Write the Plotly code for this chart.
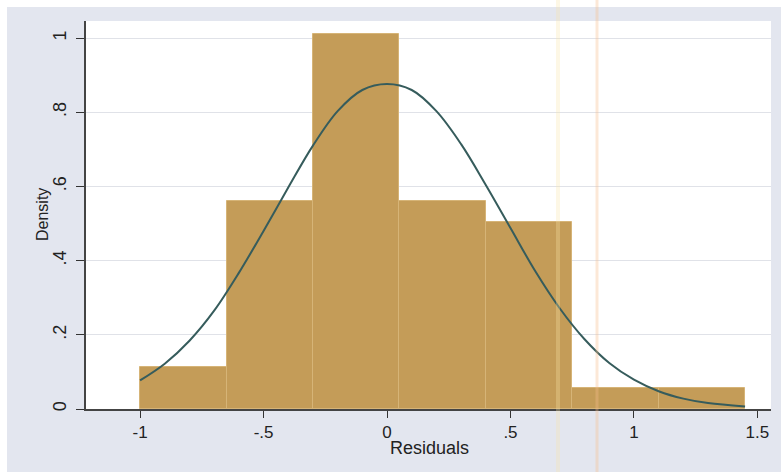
import plotly.graph_objects as go

# Histogram of residuals (density scale)
bin_edges = [-1.0, -0.65, -0.30, 0.05, 0.40, 0.75, 1.10, 1.45]
densities = [0.112, 0.560, 1.010, 0.560, 0.504, 0.056, 0.056]

# Normal density overlay
curve_x = [-1.0, -0.9, -0.8, -0.7, -0.6, -0.5, -0.4, -0.3, -0.2, -0.1, 0.0,
           0.1, 0.2, 0.3, 0.4, 0.5, 0.6, 0.7, 0.8, 0.9, 1.0, 1.1, 1.2, 1.3, 1.45]
curve_y = [0.077, 0.122, 0.184, 0.265, 0.367, 0.480, 0.597, 0.710, 0.803, 0.860, 0.876,
           0.860, 0.803, 0.714, 0.604, 0.488, 0.372, 0.271, 0.188, 0.124, 0.079, 0.048,
           0.028, 0.016, 0.007]

x_ticks = [-1, -0.5, 0, 0.5, 1, 1.5]
x_tick_labels = ["-1", "-.5", "0", ".5", "1", "1.5"]
y_ticks = [0, 0.2, 0.4, 0.6, 0.8, 1.0]
y_tick_labels = ["0", ".2", ".4", ".6", ".8", "1"]

centers = [(a + b) / 2 for a, b in zip(bin_edges[:-1], bin_edges[1:])]
widths = [b - a for a, b in zip(bin_edges[:-1], bin_edges[1:])]

FONT = "Liberation Sans, Arial, sans-serif"
BG = "#e3e6ef"

fig = go.Figure()
fig.add_trace(go.Bar(
    x=centers, y=densities, width=widths,
    marker=dict(color="#c49c58", line=dict(color="#d6b477", width=1)),
    showlegend=False, hoverinfo="skip",
))
fig.add_trace(go.Scatter(
    x=curve_x, y=curve_y, mode="lines",
    line=dict(color="#365c5c", width=2, shape="spline", smoothing=1.0),
    showlegend=False, hoverinfo="skip",
))

W, H = 781, 472
L, R, T, B = 86, 10, 21, 63
pw, ph = W - L - R, H - T - B

def px_x(p):
    return (p - L) / pw

def px_y(p):
    return (H - B - p) / ph

shapes = [
    # white strips at top and left of the scanned page
    dict(type="rect", xref="paper", yref="paper", x0=px_x(0), x1=px_x(7),
         y0=px_y(H), y1=px_y(0), fillcolor="white", line_width=0, layer="below"),
    dict(type="rect", xref="paper", yref="paper", x0=px_x(0), x1=px_x(W),
         y0=px_y(7), y1=px_y(0), fillcolor="white", line_width=0, layer="below"),
    # faint scan streaks
    dict(type="line", xref="paper", yref="paper", x0=px_x(558), x1=px_x(558),
         y0=px_y(H), y1=px_y(0), line=dict(color="rgba(250,230,170,0.30)", width=4), layer="above"),
    dict(type="line", xref="paper", yref="paper", x0=px_x(597), x1=px_x(597),
         y0=px_y(H), y1=px_y(0), line=dict(color="rgba(245,190,140,0.35)", width=3), layer="above"),
]

fig.update_layout(
    width=W, height=H,
    margin=dict(l=L, r=R, t=T, b=B, pad=0),
    paper_bgcolor=BG, plot_bgcolor="white",
    bargap=0,
    font=dict(family=FONT, size=18, color="#222222"),
    shapes=shapes,
    xaxis=dict(
        range=[-1.219, 1.555], tickmode="array", tickvals=x_ticks, ticktext=x_tick_labels,
        ticks="outside", ticklen=7, tickcolor="#333333", tickwidth=1,
        showline=True, linecolor="#444444", linewidth=1.5,
        showgrid=False, zeroline=False, tickfont=dict(size=17),
    ),
    yaxis=dict(
        range=[0, 1.046], tickmode="array", tickvals=y_ticks, ticktext=y_tick_labels,
        ticks="outside", ticklen=8, tickcolor="#333333", tickwidth=1,
        tickangle=-90, ticklabelstandoff=3,
        showline=True, linecolor="#444444", linewidth=1.5,
        showgrid=True, gridcolor="#e0e2e8", gridwidth=1, zeroline=False,
        tickfont=dict(size=18),
    ),
    annotations=[
        dict(text="Residuals", xref="paper", yref="paper", x=px_x(429), y=px_y(448),
             showarrow=False, font=dict(size=18, color="#222222"), xanchor="center", yanchor="middle"),
        dict(text="Density", xref="paper", yref="paper", x=px_x(42), y=px_y(215),
             showarrow=False, textangle=-90, font=dict(size=16, color="#222222"),
             xanchor="center", yanchor="middle"),
    ],
)

fig.write_html("out.html")
